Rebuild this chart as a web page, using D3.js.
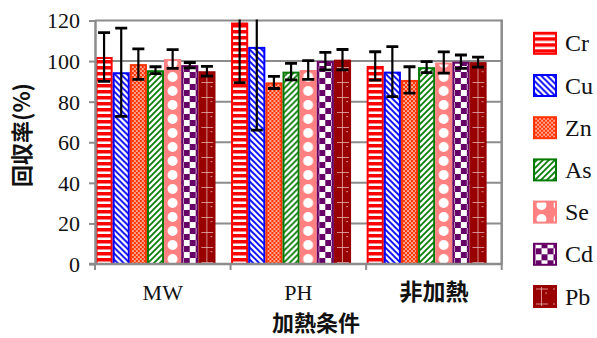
<!DOCTYPE html>
<html>
<head>
<meta charset="utf-8">
<script src="https://cdn.jsdelivr.net/npm/d3@7"></script>
<style>
  html, body { margin: 0; padding: 0; background: #fff; }
  svg { display: block; }
</style>
</head>
<body>
<svg id="chart" width="597" height="338"></svg>
<script>
// Recovery (%) per heating condition, one value per metal, with error half-widths
const conditions = ["MW", "PH", "非加熱"];
const metals = ["Cr", "Cu", "Zn", "As", "Se", "Cd", "Pb"];
const mwRecovery = [102, 94.5, 98.5, 95.5, 101, 98, 95];
const mwError    = [12, 21.7, 7.5, 1.7, 4.6, 1.3, 2.4];
const phRecovery = [119, 107, 89.5, 94.8, 95.6, 100, 100.7];
const phError    = [29.6, 41, 3, 4.1, 4.6, 4.3, 5];
const nhRecovery = [97.6, 94.8, 90.7, 97, 99.3, 99.7, 99.5];
const nhError    = [7, 12.3, 6.5, 2.7, 5.2, 3.3, 2.5];
const yTicks = [0, 20, 40, 60, 80, 100, 120];

const recovery = [mwRecovery, phRecovery, nhRecovery];
const errors = [mwError, phError, nhError];

const plot = { left: 95, right: 501.7, top: 20.5, bottom: 264 };
const serif = "'Liberation Serif', 'Times New Roman', serif";
const gothic = "'Noto Sans CJK JP', 'Noto Sans CJK SC', sans-serif";
const gridColor = "#8c8c8c";

const svg = d3.select("#chart");
const defs = svg.append("defs");

const x0 = d3.scaleBand().domain(conditions).range([plot.left, plot.right]);
const x1 = d3.scaleBand().domain(metals).range([0.5, 120.5]);
const y = d3.scaleLinear().domain([0, 120]).range([plot.bottom, plot.top]);

// Fill patterns, one per metal; bars are drawn inside translated groups so
// every pattern tile starts at the bar's left edge.
const edge = {
  Cr: "#ff0000", Cu: "#0000ff", Zn: "#ff3300", As: "#007a00",
  Se: "#ff8080", Cd: "#660066", Pb: "#990000"
};
function pattern(id, w, h, draw, px = 0) {
  const p = defs.append("pattern").attr("id", id)
    .attr("patternUnits", "userSpaceOnUse")
    .attr("x", px).attr("width", w).attr("height", h);
  draw(p);
}
pattern("p-Cr", 6, 6, p => {
  p.append("rect").attr("width", 6).attr("height", 6).attr("fill", edge.Cr);
  p.append("rect").attr("y", 3.5).attr("width", 6).attr("height", 2.5).attr("fill", "#fff");
});
pattern("p-Cu", 6, 6, p => {
  p.append("rect").attr("width", 6).attr("height", 6).attr("fill", "#fff");
  p.append("path").attr("d", "M-1,-1L7,7M-1,5L1,7M5,-1L7,1")
    .attr("stroke", edge.Cu).attr("stroke-width", 1.9);
});
pattern("p-Zn", 4, 4, p => {
  p.append("rect").attr("width", 4).attr("height", 4).attr("fill", edge.Zn);
  p.append("rect").attr("x", 0.3).attr("y", 0.3).attr("width", 1.5).attr("height", 1.5).attr("fill", "#fff");
  p.append("rect").attr("x", 2.3).attr("y", 2.3).attr("width", 1.5).attr("height", 1.5).attr("fill", "#fff");
});
pattern("p-As", 6, 6, p => {
  p.append("rect").attr("width", 6).attr("height", 6).attr("fill", "#fff");
  p.append("path").attr("d", "M-1,7L7,-1M-1,1L1,-1M5,7L7,5")
    .attr("stroke", edge.As).attr("stroke-width", 1.7);
});
pattern("p-Se", 17, 14, p => {
  p.append("rect").attr("width", 17).attr("height", 14).attr("fill", edge.Se);
  p.append("circle").attr("cx", 8.5).attr("cy", 7).attr("r", 5).attr("fill", "#fff");
});
pattern("p-Cd", 12, 12, p => {
  p.append("rect").attr("width", 12).attr("height", 12).attr("fill", edge.Cd);
  p.append("rect").attr("width", 6).attr("height", 6).attr("fill", "#fff");
  p.append("rect").attr("x", 6).attr("y", 6).attr("width", 6).attr("height", 6).attr("fill", "#fff");
}, 2.5);
pattern("p-Pb", 17, 15, p => {
  p.append("rect").attr("width", 17).attr("height", 15).attr("fill", edge.Pb);
  p.append("path").attr("d", "M8.5,0V15M3,7.5H15")
    .attr("stroke", "#e7b3b3").attr("stroke-width", 0.8);
  p.append("rect").attr("x", 12.5).attr("y", 11).attr("width", 1.2).attr("height", 1.2).attr("fill", "#f0c8c8");
});

// Gridlines
svg.append("g")
  .selectAll("line").data(yTicks.filter(t => t > 0)).join("line")
  .attr("x1", plot.left).attr("x2", plot.right)
  .attr("y1", d => y(d)).attr("y2", d => y(d))
  .attr("stroke", gridColor).attr("stroke-width", 2);

// Right border
svg.append("line")
  .attr("x1", plot.right).attr("x2", plot.right)
  .attr("y1", y(120) - 1).attr("y2", plot.bottom)
  .attr("stroke", gridColor).attr("stroke-width", 2.5);

// Bars
const groups = svg.append("g").selectAll("g").data(conditions).join("g")
  .attr("transform", d => `translate(${x0(d)},0)`);

groups.each(function (cond, ci) {
  const g = d3.select(this);
  metals.forEach((m, mi) => {
    const v = recovery[ci][mi];
    const bx = x1(m), bw = x1.bandwidth();
    const bar = g.append("g").attr("transform", `translate(${bx},0)`);
    bar.append("rect")
      .attr("x", 1).attr("width", bw - 2)
      .attr("y", y(v) + 1).attr("height", y(0) - y(v) - 1)
      .attr("fill", `url(#p-${m})`)
      .attr("stroke", edge[m]).attr("stroke-width", 2);
  });
});

// Error bars, clipped to the plotting area
defs.append("clipPath").attr("id", "plot-clip").append("rect")
  .attr("x", plot.left).attr("y", plot.top - 1)
  .attr("width", plot.right - plot.left).attr("height", plot.bottom - plot.top + 1);

const errLayer = svg.append("g").attr("clip-path", "url(#plot-clip)");
conditions.forEach((cond, ci) => {
  metals.forEach((m, mi) => {
    const v = recovery[ci][mi], e = errors[ci][mi];
    const cx = x0(cond) + x1(m) + x1.bandwidth() / 2;
    errLayer.append("line")
      .attr("x1", cx).attr("x2", cx)
      .attr("y1", y(v + e)).attr("y2", y(v - e))
      .attr("stroke", "#000").attr("stroke-width", 2.2);
    [v + e, v - e].forEach(t => {
      errLayer.append("line")
        .attr("x1", cx - 6).attr("x2", cx + 6)
        .attr("y1", y(t)).attr("y2", y(t))
        .attr("stroke", "#000").attr("stroke-width", 2.8);
    });
  });
});

// Y axis
const yAxis = svg.append("g")
  .attr("transform", `translate(${plot.left},0)`)
  .call(d3.axisLeft(y).tickValues(yTicks).tickSize(6).tickPadding(9).tickSizeOuter(0));
yAxis.select(".domain").attr("stroke", gridColor).attr("stroke-width", 2.5);
yAxis.selectAll(".tick line").attr("stroke", gridColor).attr("stroke-width", 2);
yAxis.selectAll(".tick text")
  .attr("font-family", serif).attr("font-size", 22).attr("fill", "#111")
  .attr("dy", "0.34em");

// X axis
svg.append("line")
  .attr("x1", plot.left - 6).attr("x2", plot.right + 1)
  .attr("y1", plot.bottom).attr("y2", plot.bottom)
  .attr("stroke", gridColor).attr("stroke-width", 2.5);
const catEdges = conditions.map(c => x0(c)).concat([plot.right]);
svg.append("g").selectAll("line").data(catEdges).join("line")
  .attr("x1", d => d).attr("x2", d => d)
  .attr("y1", plot.bottom).attr("y2", plot.bottom + 6)
  .attr("stroke", gridColor).attr("stroke-width", 2);

const isCJK = s => /[\u3000-\u9fff]/.test(s);
svg.append("g").selectAll("text").data(conditions).join("text")
  .attr("x", d => x0(d) + x0.bandwidth() / 2)
  .attr("y", 300)
  .attr("text-anchor", "middle")
  .attr("font-family", d => isCJK(d) ? gothic : serif)
  .attr("font-weight", d => isCJK(d) ? 700 : 400)
  .attr("font-size", d => isCJK(d) ? 23 : 22)
  .attr("fill", "#111")
  .text(d => d);

// Axis titles
svg.append("text")
  .attr("x", 316).attr("y", 331)
  .attr("text-anchor", "middle")
  .attr("font-family", gothic).attr("font-weight", 700).attr("font-size", 22)
  .attr("fill", "#111")
  .text("加熱条件");
svg.append("text")
  .attr("transform", "translate(30,135) rotate(-90)")
  .attr("text-anchor", "middle")
  .attr("font-family", gothic).attr("font-weight", 700).attr("font-size", 22)
  .attr("fill", "#111")
  .text("回収率(%)");

// Legend
const legend = svg.append("g").selectAll("g").data(metals).join("g")
  .attr("transform", (d, i) => `translate(533,${43.3 + i * 42.2})`);
legend.append("rect")
  .attr("x", 1).attr("y", -10.5).attr("width", 22).attr("height", 21)
  .attr("fill", d => `url(#p-${d})`)
  .attr("stroke", d => edge[d]).attr("stroke-width", 2);
legend.append("text")
  .attr("x", 32).attr("y", 8)
  .attr("font-family", serif).attr("font-size", 24).attr("fill", "#111")
  .text(d => d);
</script>
</body>
</html>
